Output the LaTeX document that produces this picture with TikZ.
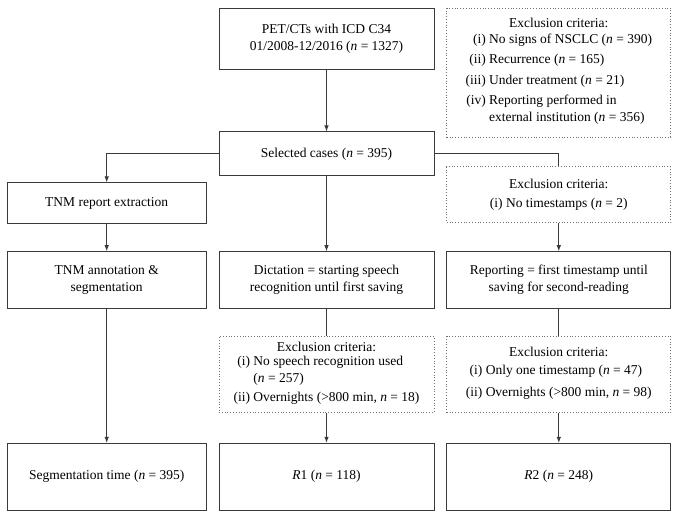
\documentclass[tikz,border=0pt]{standalone}
\usepackage{fontspec}
\setmainfont{Liberation Serif}
\usetikzlibrary{positioning,arrows.meta}
\definecolor{edgegray}{HTML}{3A3A3A}
\definecolor{dotgray}{HTML}{707070}

\begin{document}
\begin{tikzpicture}[x=1pt,y=-1pt,
  font=\fontsize{13.5}{17}\selectfont,
  box/.style={draw=edgegray,line width=0.8pt,inner sep=0pt},
  crit/.style={draw=dotgray,dotted,line width=0.8pt,inner sep=0pt},
  link/.style={draw=edgegray,line width=0.8pt},
  arr/.style={-{Latex[length=6pt,width=4.5pt]}}]
\useasboundingbox (0,0) rectangle (677,511);
\node[box,minimum width=215pt,minimum height=61pt] (pet) at (326.5,38.5) {\begin{minipage}{205pt}\centering PET/CTs with ICD C34\\ 01/2008-12/2016 (\textit{n} = 1327)\end{minipage}};
\node[crit,minimum width=224pt,minimum height=129pt,right=12pt of pet.north east,anchor=north west] (excl1) {\begin{minipage}{214pt}\centering Exclusion criteria:\\[3pt]
\begin{tabular}{@{}r@{~}l@{}}
(i) & No signs of NSCLC (\textit{n} = 390)\\[3.5pt]
(ii) & Recurrence (\textit{n} = 165)\\[3.5pt]
(iii) & Under treatment (\textit{n} = 21)\\[3.5pt]
(iv) & Reporting performed in\\
 & external institution (\textit{n} = 356)
\end{tabular}\end{minipage}};
\node[box,minimum width=215pt,minimum height=44pt,below=62pt of pet] (sel) {Selected cases (\textit{n} = 395)};
\node[box,minimum width=215pt,minimum height=57pt,below=75pt of sel] (dict) {\begin{minipage}{205pt}\centering Dictation = starting speech\\ recognition until first saving\end{minipage}};
\node[box,minimum width=199pt,minimum height=57pt,left=12pt of dict] (tnmann) {\begin{minipage}{190pt}\centering TNM annotation \&\\ segmentation\end{minipage}};
\node[box,minimum width=224pt,minimum height=57pt,right=12pt of dict] (rep) {\begin{minipage}{214pt}\centering Reporting = first timestamp until\\ saving for second-reading\end{minipage}};
\node[box,minimum width=199pt,minimum height=41pt,above=27pt of tnmann] (tnmrep) {TNM report extraction};
\node[crit,minimum width=224pt,minimum height=56pt,above=28pt of rep] (excl2) {\begin{minipage}{214pt}\centering Exclusion criteria:\\[2pt] (i) No timestamps (\textit{n} = 2)\end{minipage}};
\node[crit,minimum width=215pt,minimum height=76pt,below=27pt of dict] (excl3) {\begin{minipage}{205pt}\centering Exclusion criteria:\\[1pt]
\begin{tabular}{@{}r@{~}l@{}}
(i) & No speech recognition used\\
 & (\textit{n} = 257)\\[2pt]
(ii) & Overnights (>800 min, \textit{n} = 18)
\end{tabular}\end{minipage}};
\node[crit,minimum width=224pt,minimum height=76pt,right=12pt of excl3] (excl4) {\begin{minipage}{214pt}\centering Exclusion criteria:\\[5pt]
\begin{tabular}{@{}r@{~}l@{}}
(i) & Only one timestamp (\textit{n} = 47)\\[5pt]
(ii) & Overnights (>800 min, \textit{n} = 98)
\end{tabular}\end{minipage}};
\node[box,minimum width=215pt,minimum height=67pt,below=30pt of excl3] (r1) {\textit{R}1 (\textit{n} = 118)};
\node[box,minimum width=199pt,minimum height=67pt,left=12pt of r1] (seg) {Segmentation time (\textit{n} = 395)};
\node[box,minimum width=224pt,minimum height=67pt,right=12pt of r1] (r2) {\textit{R}2 (\textit{n} = 248)};
\draw[link,arr] (pet) -- (sel);
\draw[link,arr] (sel.west) -| (tnmrep);
\draw[link] (sel.east) -| (excl2);
\draw[link,arr] (sel) -- (dict);
\draw[link,arr] (excl2) -- (rep);
\draw[link,arr] (tnmrep) -- (tnmann);
\draw[link,arr] (tnmann) -- (seg);
\draw[link] (dict) -- (excl3);
\draw[link,arr] (excl3) -- (r1);
\draw[link] (rep) -- (excl4);
\draw[link,arr] (excl4) -- (r2);
\end{tikzpicture}
\end{document}
